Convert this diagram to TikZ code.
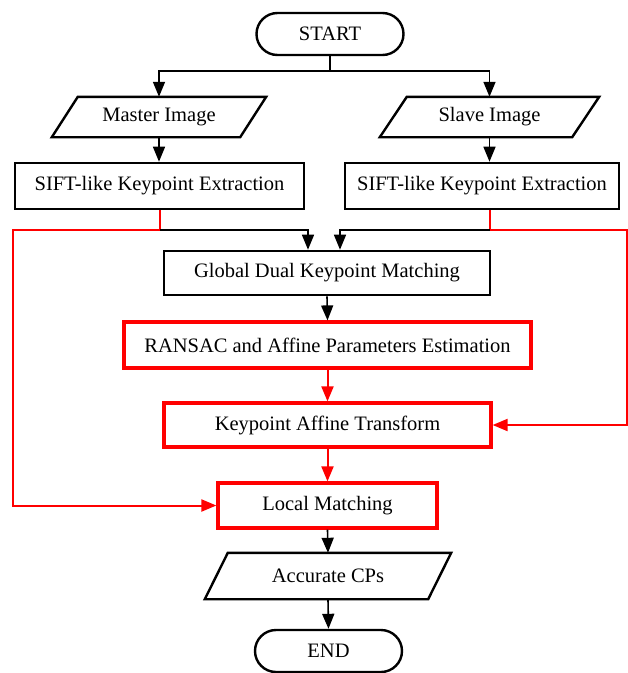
\documentclass[tikz,border=0pt]{standalone}
\usepackage{fontspec}
\setmainfont{Liberation Serif}
\usetikzlibrary{arrows.meta,shapes.misc,calc}
\begin{document}
\begin{tikzpicture}[x=1pt,y=-1pt,
  font=\fontsize{20.5}{24}\selectfont,
  box/.style={draw, line width=2.6pt, rectangle, inner sep=0pt},
  rbox/.style={draw=red, line width=3.2pt, rectangle, inner sep=0pt},
  term/.style={draw, rounded rectangle, line width=2.4pt, inner sep=0pt, minimum width=147pt, minimum height=42pt},
  io/.style={inner sep=0pt, rectangle},
  ioline/.style={line width=2.4pt, line join=miter},
  arr/.style={-{Triangle[length=15pt,width=12pt]}, line width=1.6pt},
  rline/.style={draw=red, line width=2pt},
  rarr/.style={-{Triangle[length=15pt,width=12pt]}, draw=red, line width=2pt}
]
\useasboundingbox (0,0) rectangle (628,673);

\node[term] (start) at (330,34) {START};
\node[io, minimum width=188pt, minimum height=40pt] (master) at (159,117) {Master Image};
\node[io, minimum width=192pt, minimum height=40pt] (slave) at (489.5,117) {Slave Image};
\draw[ioline] ($(master.south west)+(-13,0)$) -- ($(master.north west)+(13,0)$) -- ($(master.north east)+(13,0)$) -- ($(master.south east)+(-13,0)$) -- cycle;
\draw[ioline] ($(slave.south west)+(-13.5,0)$) -- ($(slave.north west)+(13.5,0)$) -- ($(slave.north east)+(13.5,0)$) -- ($(slave.south east)+(-13.5,0)$) -- cycle;

\node[box, minimum width=289pt, minimum height=46pt] (siftL) at (159.5,186) {SIFT-like Keypoint Extraction};
\node[box, minimum width=274pt, minimum height=46pt] (siftR) at (482,186) {SIFT-like Keypoint Extraction};
\node[box, minimum width=326pt, minimum height=44pt] (global) at (327,273) {Global Dual Keypoint Matching};
\node[rbox, minimum width=407pt, minimum height=46pt] (ransac) at (327.5,345) {RANSAC and Affine Parameters Estimation};
\node[rbox, minimum width=327pt, minimum height=44pt] (kat) at (327.5,425) {Keypoint Affine Transform};
\node[rbox, minimum width=219pt, minimum height=45pt] (local) at (327.5,505.5) {Local Matching};
\node[io, minimum width=223pt, minimum height=46pt] (acc) at (328,576) {Accurate CPs};
\draw[ioline] ($(acc.south west)+(-11.5,0)$) -- ($(acc.north west)+(11.5,0)$) -- ($(acc.north east)+(11.5,0)$) -- ($(acc.south east)+(-11.5,0)$) -- cycle;
\node[term] (end) at (328.5,651) {END};

% top branch
\coordinate (br) at (330,71);
\draw[line width=1.6pt] (start.south) -- (br);
\draw[arr] (br) -| (master.north);
\draw[arr] (br) -| (slave.north);
\draw[arr] (master.south) -- (master.south |- siftL.north);
\draw[arr] (slave.south) -- (slave.south |- siftR.north);

% junctions
\coordinate (jL) at (160,230);
\coordinate (jR) at (490,230);
\coordinate (cL) at (13,230);
\coordinate (cR) at (626.5,230);
\draw[rline] (siftL.south -| jL) -- (jL);
\draw[rline] (siftR.south -| jR) -- (jR);
\draw[arr] (jL) -| ($(global.north)+(-19,0)$);
\draw[arr] (jR) -| ($(global.north)+(13,0)$);
\draw[rarr] (jL) -- (cL) |- (local.west);
\draw[rarr] (jR) -- (cR) |- (kat.east);

% main column
\draw[arr] (global.south) -- (ransac.north);
\draw[rarr] (ransac.south) -- (kat.north);
\draw[rarr] (kat.south) -- (local.north);
\draw[arr] (local.south) -- (acc.north);
\draw[arr] (acc.south) -- (end.north);
\end{tikzpicture}
\end{document}
